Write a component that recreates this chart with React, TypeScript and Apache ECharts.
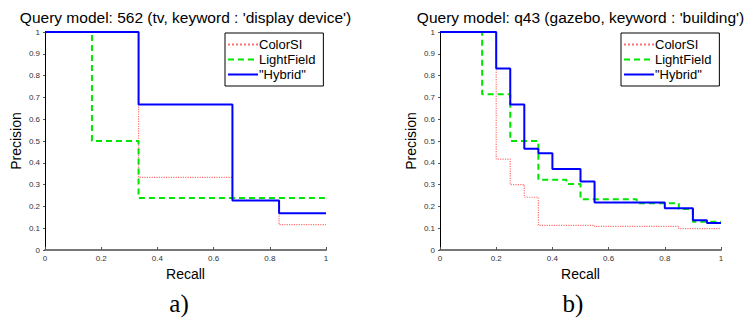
import React, { useEffect, useRef } from "react";
import * as echarts from "echarts";

// ---- Data (a) Query model 562 ----
const colorA_recall = [0, 0.333, 0.667, 0.833, 1];
const colorA_prec = [1, 0.333, 0.227, 0.116];
const lightA_recall = [0, 0.167, 0.333, 1];
const lightA_prec = [1, 0.5, 0.238];
const hybridA_recall = [0, 0.333, 0.667, 0.833, 1];
const hybridA_prec = [1, 0.667, 0.227, 0.169];

// ---- Data (b) Query model q43 ----
const colorB_recall = [0, 0.2, 0.25, 0.3, 0.35, 0.55, 0.85, 1];
const colorB_prec = [1, 0.417, 0.3, 0.242, 0.113, 0.108, 0.098];
const lightB_recall = [0, 0.15, 0.25, 0.35, 0.45, 0.5, 0.7, 0.85, 0.9, 1];
const lightB_prec = [1, 0.714, 0.5, 0.322, 0.303, 0.233, 0.215, 0.188, 0.13];
const hybridB_recall = [0, 0.2, 0.25, 0.3, 0.35, 0.4, 0.5, 0.55, 0.8, 0.9, 0.95, 1];
const hybridB_prec = [1, 0.833, 0.667, 0.465, 0.444, 0.371, 0.314, 0.218, 0.192, 0.136, 0.124];

const seriesNames = ["ColorSI", "LightField", "\"Hybrid\""];
const titles = [
  "Query model: 562 (tv, keyword : 'display device')",
  "Query model: q43 (gazebo, keyword : 'building')",
];
const panelLabels = ["a)", "b)"];

const FONT = "'Liberation Sans', Arial, Helvetica, sans-serif";

function toSteps(recall: number[], prec: number[]) {
  return recall.map((r, i) => [r, prec[Math.min(i, prec.length - 1)]]);
}

const styles = [
  { color: "#ff7070", width: 1.2, type: "dotted" as const },
  { color: "#00e600", width: 2, type: [6, 4] as any },
  { color: "#0000ff", width: 2, type: "solid" as const },
];

export default function App() {
  const ref = useRef<HTMLDivElement>(null);
  useEffect(() => {
    if (!ref.current) return;
    const chart = echarts.init(ref.current, undefined, { renderer: "svg" });
    const panels = [
      [toSteps(colorA_recall, colorA_prec), toSteps(lightA_recall, lightA_prec), toSteps(hybridA_recall, hybridA_prec)],
      [toSteps(colorB_recall, colorB_prec), toSteps(lightB_recall, lightB_prec), toSteps(hybridB_recall, hybridB_prec)],
    ];
    const grids = [
      { left: 45, right: 421, top: 32, bottom: 75 },
      { left: 440, right: 26, top: 32, bottom: 75 },
    ];
    const xAxes = grids.map((_, i) => ({
      type: "value" as const,
      gridIndex: i,
      min: 0,
      max: 1,
      interval: 0.2,
      name: "Recall",
      nameLocation: "middle" as const,
      nameGap: 17,
      nameTextStyle: { fontFamily: FONT, fontSize: 14, color: "#000" },
      axisLine: { show: true, lineStyle: { color: "#777", width: 2 } },
      axisTick: { show: true, inside: true, length: 3, lineStyle: { color: "#555" } },
      axisLabel: { fontFamily: FONT, fontSize: 8, color: "#333", margin: 4 },
      splitLine: { show: false },
    }));
    const yAxes = grids.map((_, i) => ({
      type: "value" as const,
      gridIndex: i,
      min: 0,
      max: 1,
      interval: 0.1,
      name: "Precision",
      nameLocation: "middle" as const,
      nameGap: 22,
      nameTextStyle: { fontFamily: FONT, fontSize: 14, color: "#000" },
      axisLine: { show: true, lineStyle: { color: "#000", width: 1 } },
      axisTick: { show: true, inside: false, length: 2, lineStyle: { color: "#555" } },
      axisLabel: { fontFamily: FONT, fontSize: 8, color: "#333", margin: 5 },
      splitLine: { show: false },
    }));
    const series: any[] = [];
    panels.forEach((p, gi) => {
      p.forEach((data, si) => {
        series.push({
          type: "line",
          name: seriesNames[si],
          xAxisIndex: gi,
          yAxisIndex: gi,
          step: "end",
          symbol: "none",
          data,
          lineStyle: styles[si],
          itemStyle: { color: styles[si].color },
          z: 2 + si,
        });
      });
    });
    const legendLefts = [225, 621];
    const legends = legendLefts.map((l) => ({
      data: seriesNames,
      orient: "vertical" as const,
      left: l,
      top: 33,
      width: 96,
      itemWidth: 30,
      itemHeight: 14,
      itemGap: 2,
      padding: [5, 8, 5, 2],
      backgroundColor: "#fff",
      borderColor: "#000",
      borderWidth: 1,
      selectedMode: false,
      itemStyle: { opacity: 0 },
      textStyle: { fontFamily: FONT, fontSize: 13, color: "#000", padding: [0, 0, 0, -4] },
    }));
    const centers = [185.5, 580.5];
    const graphic: any[] = [];
    centers.forEach((cx, i) => {
      graphic.push({
        type: "text",
        x: cx,
        y: 17,
        style: {
          text: titles[i],
          fontFamily: FONT,
          fontSize: 15.5,
          fill: "#000",
          textAlign: "center",
          textVerticalAlign: "middle",
        },
      });
    });
    const labelX = [179, 573];
    labelX.forEach((x, i) => {
      graphic.push({
        type: "text",
        x,
        y: 303,
        style: {
          text: panelLabels[i],
          fontFamily: "'Liberation Serif', 'DejaVu Serif', serif",
          fontSize: 25,
          fill: "#000",
          textAlign: "center",
          textVerticalAlign: "middle",
        },
      });
    });
    chart.setOption({
      animation: false,
      backgroundColor: "#fff",
      grid: grids,
      xAxis: xAxes,
      yAxis: yAxes,
      legend: legends,
      series,
      graphic,
    });
    return () => chart.dispose();
  }, []);
  return <div ref={ref} style={{ width: 747, height: 325, position: "absolute", left: 0, top: 0 }} />;
}
